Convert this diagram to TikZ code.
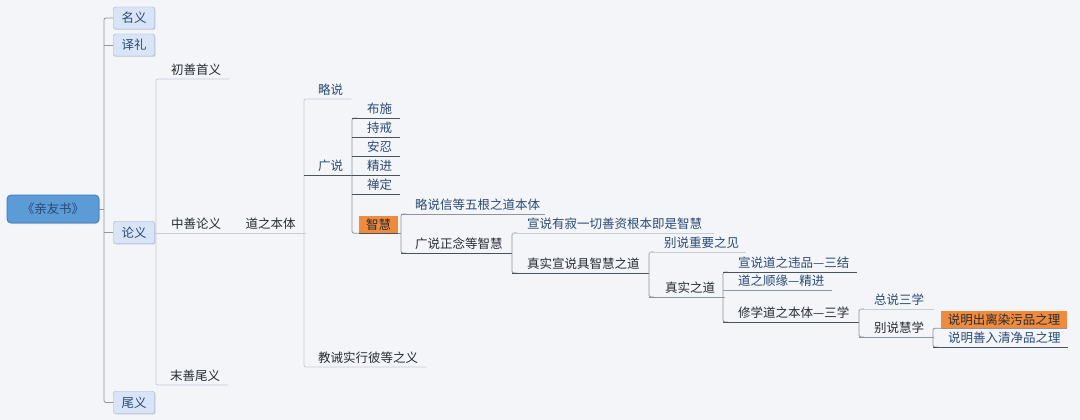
\documentclass[tikz,border=0pt]{standalone}
\usepackage{fontspec}
\newfontfamily\cjk{Noto Sans CJK SC}
\usetikzlibrary{shadows}
\definecolor{bg}{HTML}{F3F5F9}
\definecolor{tb}{HTML}{2A4A72}
\definecolor{tk}{HTML}{262C33}
\definecolor{dkl}{HTML}{4A525C}
\definecolor{mdl}{HTML}{8D959E}
\definecolor{ltl}{HTML}{C6CDD5}
\definecolor{rootF}{HTML}{5B9BD6}
\definecolor{rootD}{HTML}{3D7AB8}
\definecolor{boxF}{HTML}{D9E5F7}
\definecolor{boxD}{HTML}{93ACD0}
\definecolor{orgF}{HTML}{F08A3C}
\tikzset{
  cjkf/.style={font=\cjk\fontsize{12.5pt}{15pt}\selectfont},
  br/.style={cjkf, anchor=south west, inner xsep=0pt, inner ysep=0pt,
             text height=11pt, text depth=4.75pt, text=tb},
  brk/.style={br, text=tk},
  dk/.style={draw=dkl, line width=0.8pt},
  md/.style={draw=mdl, line width=0.8pt},
  lt/.style={draw=ltl, line width=0.8pt},
  vl/.style={draw=mdl, line width=0.8pt, rounded corners=2pt},
  vlt/.style={draw=ltl, line width=0.8pt, rounded corners=2pt},
  lvlbox/.style={cjkf, draw=boxD, fill=boxF, rounded corners=2pt, inner sep=0pt,
                 minimum width=41pt, minimum height=22pt, text=tb,
                 text height=10.5pt, text depth=1pt,
                 drop shadow={opacity=0.25, shadow xshift=1pt, shadow yshift=-1pt}},
  rootbox/.style={cjkf, draw=rootD, fill=rootF, rounded corners=4pt, inner sep=0pt,
                 minimum width=92pt, minimum height=28pt, text=tb,
                 text height=10.5pt, text depth=1pt, line width=0.8pt,
                 drop shadow={opacity=0.25, shadow xshift=1pt, shadow yshift=-1pt}},
  orbox/.style={cjkf, fill=orgF, inner sep=0pt, minimum height=17pt, text=tk,
                 text height=10.5pt, text depth=1pt}
}
\begin{document}
\begin{tikzpicture}[x=1pt,y=-1pt]
\fill[bg] (0,0) rectangle (1080,420);
\useasboundingbox (0,0) rectangle (1080,420);

% root and level 1
\node[rootbox] (root) at (53,209) {《亲友书》};
\node[lvlbox] (ming) at (134,18) {名义};
\node[lvlbox] (yili) at (134,45) {译礼};
\node[lvlbox] (lun) at (134,232.5) {论义};
\node[lvlbox] (wei) at (134,402.5) {尾义};
\coordinate (mv) at (104,0);
\draw[vl] (ming.west) -- (mv |- ming.west) -- (mv |- wei.west) -- (wei.west);
\draw[md] (mv |- yili.west) -- (yili.west);
\draw[md] (mv |- lun.west) -- (lun.west);
\draw[md] (root.east) -- (mv |- root.east);

% level 2
\node[brk] (c1) at (156,79) {\hspace*{15pt}初善首义\hspace*{8pt}};
\node[brk] (c2) at (156,233) {\hspace*{15pt}中善论义\hspace*{8pt}};
\node[brk] (c3) at (156,385) {\hspace*{14pt}末善尾义\hspace*{8pt}};
\draw[vlt] (c1.south east) -- (c1.south west) -- (c3.south west) -- (c3.south east);
\draw[lt] (c2.south west) -- (c2.south east);
\draw[lt] (lun.east) -- (c2.south west);
\node[brk] (d) at (c2.south east) {\hspace*{16pt}道之本体\hspace*{10pt}};
\draw[lt] (d.south west) -- (d.south east);

% level 3
\node[br] (e1) at (304,99) {\hspace*{14pt}略说\hspace*{8pt}};
\node[br] (e2) at (304,175) {\hspace*{14pt}广说\hspace*{10pt}};
\node[brk] (e3) at (304,367) {\hspace*{14pt}教诫实行彼等之义\hspace*{8pt}};
\draw[vlt] (e1.south east) -- (e1.south west) -- (e3.south west) -- (e3.south east);
\draw[dk] (e2.south west) -- (e2.south east);

% level 4
\node[br] (f1) at (352,118) {\hspace*{15pt}布施\hspace*{8pt}};
\node[br] (f2) at (352,137) {\hspace*{15pt}持戒\hspace*{8pt}};
\node[br] (f3) at (352,156) {\hspace*{15pt}安忍\hspace*{8pt}};
\node[br] (f4) at (352,175) {\hspace*{15pt}精进\hspace*{8pt}};
\node[br] (f5) at (352,194) {\hspace*{15pt}禅定\hspace*{8pt}};
\node[orbox, minimum width=39pt] (zh) at (378.5,224.5) {智慧};
\draw[vl] ([xshift=5pt]f1.south west) -- (f1.south west) -- (f1.south west |- zh.south) -- (zh.south west);
\foreach \n in {f1,f2,f3,f4,f5} \draw[dk] (\n.south west) -- (\n.south east);
\draw[dk] (zh.south west) -- (zh.south east);

% level 5
\node[br] (g1) at (401,214) {\hspace*{14pt}略说信等五根之道本体\hspace*{5pt}};
\node[brk] (g2) at (401,253) {\hspace*{14pt}广说正念等智慧\hspace*{9pt}};
\draw[vl] ([xshift=5pt]g1.south west) -- (g1.south west) -- (g2.south west) -- ([xshift=5pt]g2.south west);
\draw[md] (g1.south west) -- (g1.south east);
\draw[dk] (g2.south west) -- (g2.south east);
\draw[md] (zh.south east) -- (zh.south east -| g1.south west);

% level 6
\node[br] (h1) at (512,233) {\hspace*{15pt}宣说有寂一切善资根本即是智慧\hspace*{12pt}};
\node[brk] (h2) at (512,273) {\hspace*{15pt}真实宣说具智慧之道\hspace*{9pt}};
\draw[vl] ([xshift=5pt]h1.south west) -- (h1.south west) -- (h2.south west) -- ([xshift=5pt]h2.south west);
\draw[lt] (h1.south west) -- (h1.south east);
\draw[dk] (h2.south west) -- (h2.south east);

% level 7
\node[br] (i1) at (649,252) {\hspace*{15pt}别说重要之见\hspace*{7pt}};
\node[brk] (i2) at (649,297) {\hspace*{16pt}真实之道\hspace*{10pt}};
\draw[vl] ([xshift=5pt]i1.south west) -- (i1.south west) -- (i2.south west) -- ([xshift=5pt]i2.south west);
\draw[lt] (i1.south west) -- (i1.south east);
\draw[md] (i2.south west) -- (i2.south east);

% level 8
\node[br] (j1) at (723,272) {\hspace*{15pt}宣说道之违品—三结\hspace*{7pt}};
\node[br] (j2) at (723,290) {\hspace*{15pt}道之顺缘—精进\hspace*{7pt}};
\node[brk] (j3) at (723,322) {\hspace*{15pt}修学道之本体—三学\hspace*{9pt}};
\draw[vl] ([xshift=5pt]j1.south west) -- (j1.south west) -- (j3.south west) -- ([xshift=5pt]j3.south west);
\draw[dk] (j1.south west) -- (j1.south east);
\draw[md] (j2.south west) -- (j2.south east);
\draw[dk] (j3.south west) -- (j3.south east);

% level 9
\node[br] (k1) at (859,309) {\hspace*{15pt}总说三学\hspace*{10pt}};
\node[brk] (k2) at (859,337) {\hspace*{15pt}别说慧学\hspace*{10pt}};
\draw[vl] ([xshift=5pt]k1.south west) -- (k1.south west) -- (k2.south west) -- ([xshift=5pt]k2.south west);
\draw[lt] (k1.south west) -- (k1.south east);
\draw[md] (k2.south west) -- (k2.south east);

% level 10
\node[orbox, minimum width=126pt] (l1) at (1004,319.5) {说明出离染污品之理};
\node[br] (l2) at (933,347) {\hspace*{15pt}说明善入清净品之理\hspace*{7pt}};
\draw[vl] (l1.south west) -- (l1.south west -| l2.south west) -- (l2.south west) -- ([xshift=5pt]l2.south west);
\draw[md] (l1.south west) -- (l1.south east);
\draw[dk] (l2.south west) -- (l2.south east);
\end{tikzpicture}
\end{document}
